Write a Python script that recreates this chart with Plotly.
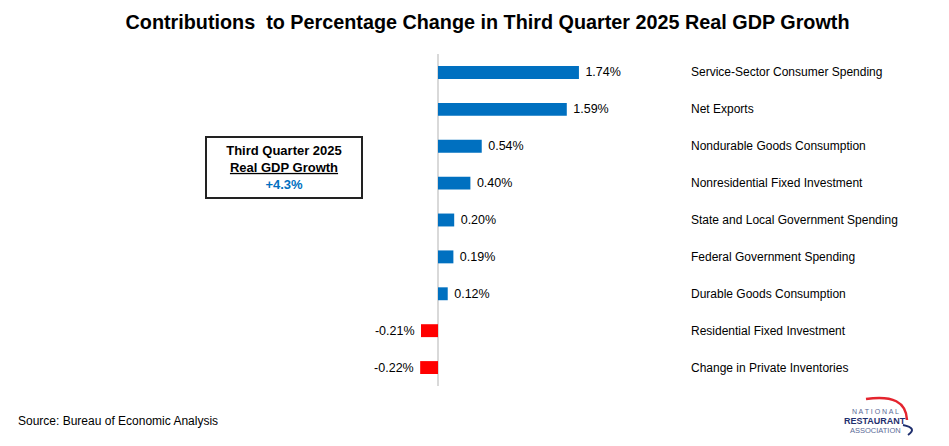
import plotly.graph_objects as go

categories = [
    "Service-Sector Consumer Spending",
    "Net Exports",
    "Nondurable Goods Consumption",
    "Nonresidential Fixed Investment",
    "State and Local Government Spending",
    "Federal Government Spending",
    "Durable Goods Consumption",
    "Residential Fixed Investment",
    "Change in Private Inventories",
]
values = [1.74, 1.59, 0.54, 0.40, 0.20, 0.19, 0.12, -0.21, -0.22]
value_labels = ["1.74%", "1.59%", "0.54%", "0.40%", "0.20%", "0.19%", "0.12%", "-0.21%", "-0.22%"]

BLUE = "#0070C0"
RED = "#FF0000"
FONT = "Arial, Liberation Sans, sans-serif"

W, H = 949, 446
OFF = 8  # page body margin offset
MT = 54 - OFF
PLOT_BOTTOM = 386 - OFF
MB = H - PLOT_BOTTOM
PH = PLOT_BOTTOM - MT


def pxx(x):
    return (x - OFF) / W


def pxy(y):
    return (PLOT_BOTTOM - (y - OFF)) / PH


colors = [BLUE if v >= 0 else RED for v in values]
display_text = [
    ("\u00a0" + t) if v >= 0 else (t + "\u00a0")
    for t, v in zip(value_labels, values)
]

fig = go.Figure(
    go.Bar(
        x=values,
        y=categories,
        orientation="h",
        marker=dict(color=colors, line=dict(width=0)),
        width=0.35,
        text=display_text,
        textposition="outside",
        constraintext="none",
        textfont=dict(family=FONT, size=12.5, color="#000000"),
        cliponaxis=False,
        hoverinfo="skip",
    )
)

zero_px = 438 - OFF
scale = 81.0
fig.update_xaxes(
    range=[-zero_px / scale, (W - zero_px) / scale],
    showgrid=False,
    showticklabels=False,
    zeroline=True,
    zerolinecolor="#d9d9d9",
    zerolinewidth=1.5,
    fixedrange=True,
)
fig.update_yaxes(
    categoryorder="array",
    categoryarray=categories[::-1],
    showticklabels=False,
    showgrid=False,
    fixedrange=True,
)

annotations = []
for c in categories:
    annotations.append(
        dict(
            x=pxx(689), xref="paper", y=c, yref="y",
            text=c, showarrow=False, xanchor="left", yanchor="middle",
            font=dict(family=FONT, size=12, color="#000000"),
        )
    )

# Summary box
annotations.append(
    dict(
        x=pxx(283.5), xref="paper", y=pxy(167.5), yref="paper",
        text="<b>Third Quarter 2025</b><br><b><u>Real GDP Growth</u></b><br><b><span style='color:#0070C0'>+4.3%</span></b>",
        showarrow=False, xanchor="center", yanchor="middle", align="center",
        font=dict(family=FONT, size=13, color="#000000"),
        bordercolor="#222222", borderwidth=2, borderpad=5,
        bgcolor="#ffffff", width=144,
    )
)

# Source
annotations.append(
    dict(
        x=pxx(16), xref="paper", y=pxy(421), yref="paper",
        text="Source: Bureau of Economic Analysis", showarrow=False,
        xanchor="left", yanchor="middle",
        font=dict(family=FONT, size=12, color="#000000"),
    )
)

# Logo text
for txt, yy, size, col, bold in [
    ("N A T I O N A L", 411, 7, "#5a6a96", False),
    ("RESTAURANT", 420.5, 9, "#1f2f6e", True),
    ("ASSOCIATION", 430, 7.5, "#5a6a96", False),
]:
    annotations.append(
        dict(
            x=pxx(875), xref="paper", y=pxy(yy), yref="paper",
            text=f"<b>{txt}</b>" if bold else txt, showarrow=False,
            xanchor="center", yanchor="middle",
            font=dict(family=FONT, size=size, color=col),
        )
    )

shapes = [
    dict(
        type="path", xref="paper", yref="paper",
        path=f"M {pxx(866)},{pxy(399)} Q {pxx(906)},{pxy(393)} {pxx(907)},{pxy(420)}",
        line=dict(color="#e4242e", width=2.5),
    ),
    dict(
        type="path", xref="paper", yref="paper",
        path=f"M {pxx(903)},{pxy(425)} Q {pxx(918)},{pxy(428)} {pxx(908)},{pxy(435)}",
        line=dict(color="#1f2f6e", width=2),
    ),
]

fig.update_layout(
    width=W, height=H,
    margin=dict(l=0, r=0, t=MT, b=MB),
    paper_bgcolor="#ffffff",
    plot_bgcolor="#ffffff",
    showlegend=False,
    title=dict(
        text="<b>Contributions  to Percentage Change in Third Quarter 2025 Real GDP Growth</b>",
        x=pxx(487.5), xanchor="center", y=1 - (22 - OFF) / H, yanchor="middle",
        font=dict(family=FONT, size=19.8, color="#000000"),
    ),
    annotations=annotations,
    shapes=shapes,
)

fig.write_html("out.html")
